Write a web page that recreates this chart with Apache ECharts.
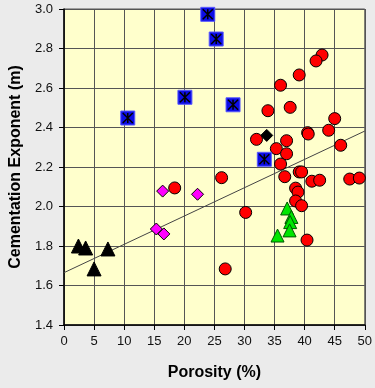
<!DOCTYPE html>
<html>
<head>
<meta charset="utf-8">
<script src="https://cdn.jsdelivr.net/npm/echarts@6/dist/echarts.min.js"></script>
<style>
  html, body { margin: 0; padding: 0; background: #ebebeb; }
  #main { width: 375px; height: 388px; }
</style>
</head>
<body>
<div id="main"></div>
<script>
// porosity (%) , cementation exponent m
var redCircles = [
  [42.9, 2.767], [41.9, 2.737], [39.1, 2.666], [36.0, 2.614], [33.9, 2.485],
  [37.6, 2.502], [45.0, 2.445], [44.0, 2.386], [40.5, 2.374], [40.6, 2.367],
  [32.0, 2.340], [37.0, 2.333], [46.0, 2.310], [35.3, 2.293], [37.0, 2.267],
  [36.0, 2.215], [39.1, 2.175], [39.5, 2.175], [36.7, 2.151], [26.2, 2.146],
  [41.2, 2.128], [42.5, 2.133], [47.5, 2.139], [49.1, 2.144], [38.5, 2.093],
  [38.9, 2.073], [38.5, 2.028], [39.5, 2.004], [30.2, 1.970], [40.4, 1.830],
  [26.8, 1.684], [18.4, 2.094]
];
var blueSquares = [
  [10.6, 2.448], [20.1, 2.553], [23.9, 2.973], [25.3, 2.848], [28.1, 2.515], [33.3, 2.239]
];
var blackDiamonds = [[33.7, 2.360]];
var magentaDiamonds = [[16.4, 2.078], [15.35, 1.886], [16.6, 1.861], [22.2, 2.062]];
var blackTriangles = [[2.4, 1.800], [3.6, 1.790], [5.0, 1.684], [7.3, 1.785]];
var greenTriangles = [[37.1, 1.990], [37.8, 1.947], [37.6, 1.921], [37.5, 1.879], [35.5, 1.853]];
var trendLine = [[0, 1.665], [50, 2.382]];

var chart = echarts.init(document.getElementById('main'));
var font = 'Liberation Sans, Arial, sans-serif';

var option = {
  backgroundColor: '#ebebeb',
  animation: false,
  grid: {
    left: 64, right: 8, top: 9, bottom: 63,
    show: true,
    backgroundColor: '#ffffcc',
    borderColor: '#555',
    borderWidth: 1
  },
  xAxis: {
    type: 'value',
    min: 0, max: 50, interval: 5,
    name: 'Porosity (%)',
    nameLocation: 'middle',
    nameGap: 40,
    nameTextStyle: { fontFamily: font, fontSize: 16, fontWeight: 'bold', color: '#000' },
    axisLine: { show: true, lineStyle: { color: '#000', width: 1.5 } },
    axisTick: { show: true, length: 5, lineStyle: { color: '#000' } },
    axisLabel: { margin: 10, fontFamily: font, fontSize: 13, color: '#111' },
    splitLine: { show: true, lineStyle: { color: '#555', width: 1 } }
  },
  yAxis: {
    type: 'value',
    min: 1.4, max: 3.0, interval: 0.2,
    name: 'Cementation Exponent (m)',
    nameLocation: 'middle',
    nameGap: 40,
    nameTextStyle: { fontFamily: font, fontSize: 16, fontWeight: 'bold', color: '#000' },
    axisLine: { show: true, lineStyle: { color: '#000', width: 1.5 } },
    axisTick: { show: true, length: 5, lineStyle: { color: '#000' } },
    axisLabel: {
      margin: 11, fontFamily: font, fontSize: 13, color: '#111',
      formatter: function (v) { return v.toFixed(1); }
    },
    splitLine: { show: true, lineStyle: { color: '#555', width: 1 } }
  },
  series: [
    {
      type: 'line', data: trendLine, symbol: 'none', silent: true,
      lineStyle: { color: '#444', width: 1 }, z: 2
    },
    {
      type: 'scatter', data: blackTriangles, symbol: 'triangle', symbolSize: 14,
      itemStyle: { color: '#000', borderColor: '#000', borderWidth: 1, opacity: 1 }, z: 3
    },
    {
      type: 'scatter', data: greenTriangles, symbol: 'triangle', symbolSize: 13,
      itemStyle: { color: '#00e600', borderColor: '#005500', borderWidth: 1, opacity: 1 }, z: 3
    },
    {
      type: 'scatter', data: magentaDiamonds, symbol: 'diamond', symbolSize: [12, 12],
      itemStyle: { color: '#ff00ff', borderColor: '#000', borderWidth: 1, opacity: 1 }, z: 3
    },
    {
      type: 'scatter', data: blackDiamonds, symbol: 'diamond', symbolSize: [12, 12],
      itemStyle: { color: '#000', borderColor: '#000', borderWidth: 1, opacity: 1 }, z: 3
    },
    {
      type: 'scatter', data: redCircles, symbol: 'circle', symbolSize: 12,
      itemStyle: { color: '#ff0000', borderColor: '#000', borderWidth: 1, opacity: 1 }, z: 4
    },
    {
      type: 'scatter', data: blueSquares, symbol: 'rect', symbolSize: 14, clip: false,
      itemStyle: { color: '#0d0de6', borderColor: '#5a5aff', borderWidth: 1, opacity: 1 }, z: 5
    },
    {
      type: 'scatter', data: blueSquares, clip: false,
      symbol: 'path://M0,0L10,10M10,0L0,10M5,0L5,10', symbolSize: 10,
      itemStyle: { color: 'none', borderColor: '#000', borderWidth: 1.5, opacity: 1 }, z: 6
    }
  ]
};

chart.setOption(option);
</script>
</body>
</html>
